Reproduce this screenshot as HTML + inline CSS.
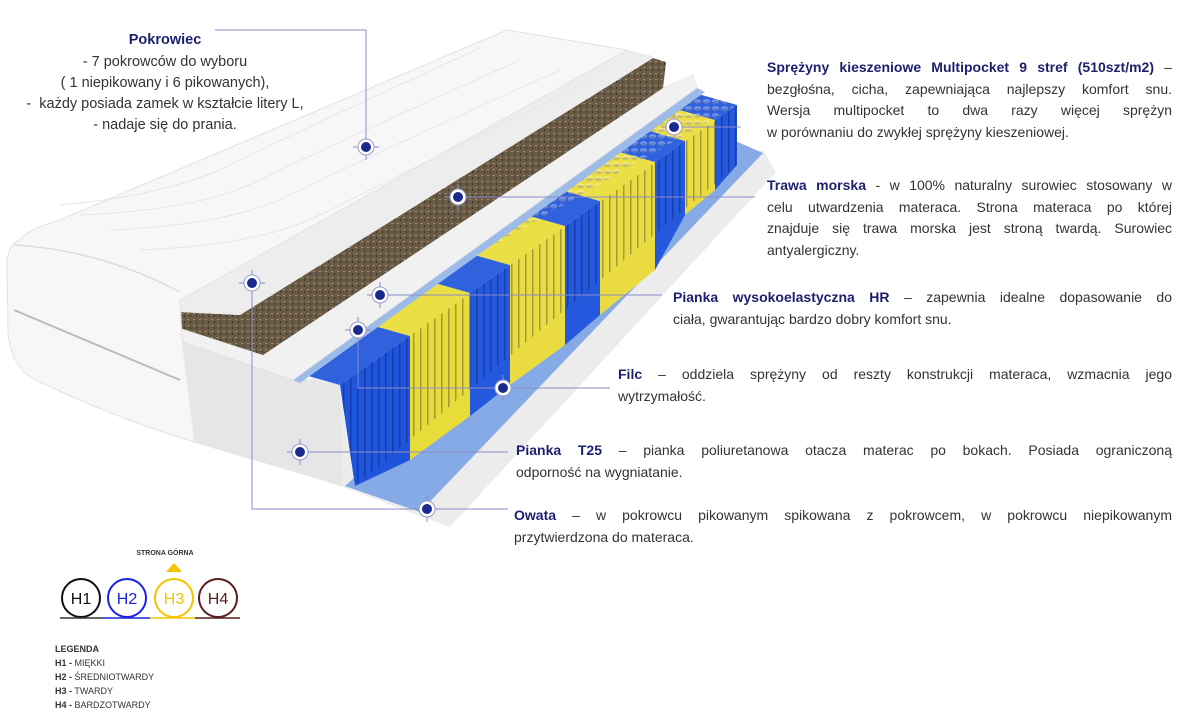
<!DOCTYPE html>
<html><head><meta charset="utf-8"><style>
html,body{margin:0;padding:0;background:#fff;}
body{width:1200px;height:719px;position:relative;overflow:hidden;font-family:"Liberation Sans",sans-serif;color:#333;}
.t{position:absolute;font-size:14px;line-height:21.5px;}
.t div{text-align:justify;text-align-last:justify;white-space:nowrap;}
.t div.l{text-align-last:left;}
b.h{color:#1c1f6e;font-weight:bold;}
.c{position:absolute;left:0;width:330px;text-align:center;font-size:14.5px;line-height:21px;}
.lg{position:absolute;left:55px;font-size:9px;line-height:14px;color:#333;}
</style></head><body>
<svg width="1200" height="719" style="position:absolute;left:0;top:0">
<defs>
<pattern id="sp" width="7" height="10" patternUnits="userSpaceOnUse"><rect x="0" y="0" width="1.5" height="10" fill="rgba(0,0,50,0.3)"/></pattern>
<pattern id="cap" width="9" height="7" patternUnits="userSpaceOnUse"><ellipse cx="4.5" cy="3.5" rx="3.6" ry="2.3" fill="rgba(255,255,255,0.35)"/><ellipse cx="4.5" cy="4.5" rx="3.6" ry="1.5" fill="rgba(0,0,60,0.18)"/></pattern>
<pattern id="coir" width="6" height="6" patternUnits="userSpaceOnUse"><rect width="6" height="6" fill="#6a5b47"/><rect x="1" y="1" width="2" height="1" fill="#a8916a"/><rect x="4" y="3" width="1" height="2" fill="#3a3126"/></pattern>
</defs>
<!-- base white -->
<polygon points="763,150 776,172 450,527 340,486 190,440" fill="#ececec"/>
<polygon points="733,140 763,153 420,512 345,486" fill="#86aae6"/>
<!-- T25 side block -->
<polygon points="182,338 300,378 340,385 342,486 192,442" fill="#e6e6e6"/>
<!-- spring caps (top surface) -->
<g>
<polygon points="340,385 410,336 350,319 280,368" fill="#2f62dc"/>
<polygon points="410,336 470,293 410,276 350,319" fill="#ecdf45"/>
<polygon points="470,293 510,265 450,248 410,276" fill="#2f62dc"/>
<polygon points="510,265 565,226 505,209 450,248" fill="#ecdf45"/>
<polygon points="565,226 600,201 540,184 505,209" fill="#2f62dc"/>
<polygon points="600,201 655,162 595,145 540,184" fill="#ecdf45"/>
<polygon points="655,162 685,141 625,124 595,145" fill="#2f62dc"/>
<polygon points="685,141 715,120 655,103 625,124" fill="#ecdf45"/>
<polygon points="715,120 737,105 677,88 655,103" fill="#2f62dc"/>
<polygon points="280,368 737,105 677,88 220,351" fill="url(#cap)"/>
</g>
<!-- springs front face -->
<g>
<polygon points="340,385 410,336 410,460 355,486" fill="#1f55dd"/>
<polygon points="410,336 470,293 470,416 410,460" fill="#e8dc3a"/>
<polygon points="470,293 510,265 510,385 470,416" fill="#2458dd"/>
<polygon points="510,265 565,226 565,345 510,385" fill="#eadc40"/>
<polygon points="565,226 600,201 600,315 565,345" fill="#2458dd"/>
<polygon points="600,201 655,162 655,270 600,315" fill="#eadc40"/>
<polygon points="655,162 685,141 685,215 655,270" fill="#2458dd"/>
<polygon points="685,141 715,120 715,190 685,215" fill="#eadc40"/>
<polygon points="715,120 737,105 737,165 715,190" fill="#2458dd"/>
<polygon points="340,385 737,105 737,165 355,486" fill="url(#sp)"/>
</g>
<!-- thin felt line -->
<polygon points="697,88 705,92 300,383 293,380" fill="#9dbbe8"/>
<!-- HR strip -->
<polygon points="663,88 693,75 697,88 293,380 183,342 180,328 263,355" fill="#f1f1f1" stroke="#dedede" stroke-width="0.6"/>
<!-- coir -->
<polygon points="653,58 666,62 663,88 263,355 180,328 180,312 240,315" fill="url(#coir)"/>
<!-- top foam strip -->
<polygon points="627,50 653,56 653,58 240,315 180,312 180,300" fill="#ededed"/>
<!-- cover -->
<path d="M20,240 Q30,228 55,222 L507,30 L627,50 L180,300 L182,338 L195,442 Q120,420 40,382 Q10,370 8,330 L7,262 Q8,245 20,240 Z" fill="#f7f7f7" stroke="#e2e2e2" stroke-width="1"/>
<path d="M15,245 Q100,250 180,292" fill="none" stroke="#dcdcdc" stroke-width="1.5"/>
<path d="M14,310 L180,380" stroke="#bbb" stroke-width="2" fill="none"/>
<g fill="none" stroke="#e6e6e6" stroke-width="1">
<path d="M80,215 Q200,210 260,180 T520,60"/>
<path d="M110,230 Q230,225 290,195 T560,70"/>
<path d="M140,250 Q260,245 320,215 T590,80"/>
<path d="M60,205 Q170,195 230,165 T480,48"/>
</g>
<!-- connectors -->
<g stroke="#8a8cc8" stroke-width="1" fill="none">
<polyline points="215,30 366,30 366,147"/>
<line x1="674" y1="127" x2="741" y2="127"/>
<line x1="458" y1="197" x2="755" y2="197"/>
<line x1="380" y1="295" x2="662" y2="295"/>
<line x1="503" y1="388" x2="610" y2="388"/>
<line x1="300" y1="452" x2="508" y2="452"/>
<polyline points="252,283 252,509 508,509"/>
<polyline points="358,330 358,388 503,388"/>
</g>
<g>
<g transform="translate(366,147)"><line x1="-13" x2="13" stroke="#8a8cc8"/><line y1="-13" y2="13" stroke="#8a8cc8"/><circle r="8" fill="#fff" stroke="#9a9ad0"/><circle r="5" fill="#1a2a8c"/></g>
<g transform="translate(458,197)"><line x1="-13" x2="13" stroke="#8a8cc8"/><line y1="-13" y2="13" stroke="#8a8cc8"/><circle r="8" fill="#fff" stroke="#9a9ad0"/><circle r="5" fill="#1a2a8c"/></g>
<g transform="translate(252,283)"><line x1="-13" x2="13" stroke="#8a8cc8"/><line y1="-13" y2="13" stroke="#8a8cc8"/><circle r="8" fill="#fff" stroke="#9a9ad0"/><circle r="5" fill="#1a2a8c"/></g>
<g transform="translate(380,295)"><line x1="-13" x2="13" stroke="#8a8cc8"/><line y1="-13" y2="13" stroke="#8a8cc8"/><circle r="8" fill="#fff" stroke="#9a9ad0"/><circle r="5" fill="#1a2a8c"/></g>
<g transform="translate(358,330)"><line x1="-13" x2="13" stroke="#8a8cc8"/><line y1="-13" y2="13" stroke="#8a8cc8"/><circle r="8" fill="#fff" stroke="#9a9ad0"/><circle r="5" fill="#1a2a8c"/></g>
<g transform="translate(674,127)"><line x1="-13" x2="13" stroke="#8a8cc8"/><line y1="-13" y2="13" stroke="#8a8cc8"/><circle r="8" fill="#fff" stroke="#9a9ad0"/><circle r="5" fill="#1a2a8c"/></g>
<g transform="translate(503,388)"><line x1="-13" x2="13" stroke="#8a8cc8"/><line y1="-13" y2="13" stroke="#8a8cc8"/><circle r="8" fill="#fff" stroke="#9a9ad0"/><circle r="5" fill="#1a2a8c"/></g>
<g transform="translate(300,452)"><line x1="-13" x2="13" stroke="#8a8cc8"/><line y1="-13" y2="13" stroke="#8a8cc8"/><circle r="8" fill="#fff" stroke="#9a9ad0"/><circle r="5" fill="#1a2a8c"/></g>
<g transform="translate(427,509)"><line x1="-13" x2="13" stroke="#8a8cc8"/><line y1="-13" y2="13" stroke="#8a8cc8"/><circle r="8" fill="#fff" stroke="#9a9ad0"/><circle r="5" fill="#1a2a8c"/></g>
</g>
<!-- legend -->
<text x="165" y="555" font-size="7" font-weight="bold" fill="#333" text-anchor="middle" font-family="Liberation Sans">STRONA GÓRNA</text>
<polygon points="166,572 182,572 174,563" fill="#f2c500"/>
<circle cx="81" cy="598" r="19" fill="none" stroke="#111" stroke-width="2"/>
<circle cx="127" cy="598" r="19" fill="none" stroke="#1a22e0" stroke-width="2"/>
<circle cx="174" cy="598" r="19" fill="none" stroke="#f2c500" stroke-width="2"/>
<circle cx="218" cy="598" r="19" fill="none" stroke="#5a1e1e" stroke-width="2"/>
<line x1="60" y1="618" x2="104" y2="618" stroke="#333" stroke-width="1.5"/>
<line x1="104" y1="618" x2="150" y2="618" stroke="#1a22e0" stroke-width="1.5"/>
<line x1="150" y1="618" x2="195" y2="618" stroke="#f2c500" stroke-width="1.5"/>
<line x1="195" y1="618" x2="240" y2="618" stroke="#5a1e1e" stroke-width="1.5"/>
<g font-family="Liberation Sans" font-size="16" text-anchor="middle">
<text x="81" y="604" fill="#111">H1</text>
<text x="127" y="604" fill="#1a22e0">H2</text>
<text x="174" y="604" fill="#f2c500">H3</text>
<text x="218" y="604" fill="#5a1e1e">H4</text>
</g>
</svg>

<div class="c" style="top:30px"><b class="h">Pokrowiec</b></div>
<div class="c" style="top:52px">- 7 pokrowców do wyboru</div>
<div class="c" style="top:73px">( 1 niepikowany i 6 pikowanych),</div>
<div class="c" style="top:94px">-&nbsp; każdy posiada zamek w kształcie litery L,</div>
<div class="c" style="top:115px">- nadaje się do prania.</div>

<div class="t" style="left:767px;top:57px;width:405px">
<div><b class="h">Sprężyny kieszeniowe Multipocket 9 stref (510szt/m2)</b> –</div>
<div>bezgłośna, cicha, zapewniająca najlepszy komfort snu.</div>
<div>Wersja multipocket to dwa razy więcej sprężyn</div>
<div class="l">w porównaniu do zwykłej sprężyny kieszeniowej.</div>
</div>
<div class="t" style="left:767px;top:175px;width:405px">
<div><b class="h">Trawa morska</b> - w 100% naturalny surowiec stosowany w</div>
<div>celu utwardzenia materaca. Strona materaca po której</div>
<div>znajduje się trawa morska jest stroną twardą. Surowiec</div>
<div class="l">antyalergiczny.</div>
</div>
<div class="t" style="left:673px;top:287px;width:499px">
<div><b class="h">Pianka wysokoelastyczna HR</b> – zapewnia idealne dopasowanie do</div>
<div class="l">ciała, gwarantując bardzo dobry komfort snu.</div>
</div>
<div class="t" style="left:618px;top:364px;width:554px">
<div><b class="h">Filc</b> – oddziela sprężyny od reszty konstrukcji materaca, wzmacnia jego</div>
<div class="l">wytrzymałość.</div>
</div>
<div class="t" style="left:516px;top:440px;width:656px">
<div><b class="h">Pianka T25</b> – pianka poliuretanowa otacza materac po bokach. Posiada ograniczoną</div>
<div class="l">odporność na wygniatanie.</div>
</div>
<div class="t" style="left:514px;top:505px;width:658px">
<div><b class="h">Owata</b> – w pokrowcu pikowanym spikowana z pokrowcem, w pokrowcu niepikowanym</div>
<div class="l">przytwierdzona do materaca.</div>
</div>

<div class="lg" style="top:642px"><b>LEGENDA</b><br><b>H1 -</b> MIĘKKI<br><b>H2 -</b> ŚREDNIOTWARDY<br><b>H3 -</b> TWARDY<br><b>H4 -</b> BARDZOTWARDY</div>
</body></html>
